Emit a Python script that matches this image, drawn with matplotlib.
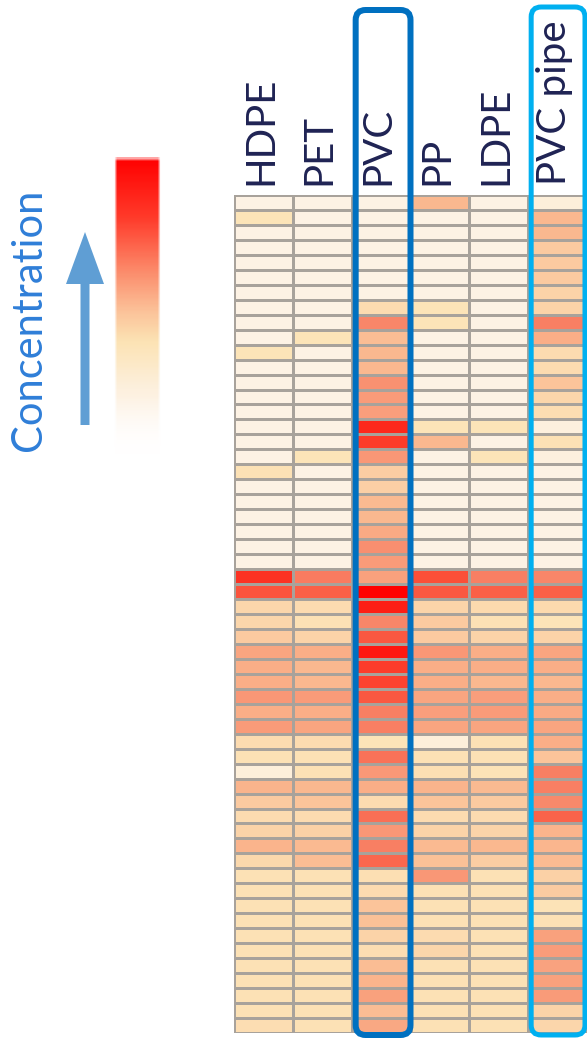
import numpy as np
import matplotlib
matplotlib.use("Agg")
import matplotlib.pyplot as plt
from matplotlib.colors import LinearSegmentedColormap
from matplotlib.patches import FancyBboxPatch
from matplotlib.transforms import IdentityTransform, blended_transform_factory

# relative concentration per compound (rows) for each polymer (columns), 0..1
materials = ["HDPE", "PET", "PVC", "PP", "LDPE", "PVC pipe"]

hdpe = [0, .2, 0, 0, 0, 0, 0, 0, 0, 0, .2, 0, 0, 0, 0, 0, 0, 0, .22, 0,
        0, 0, 0, 0, 0, .9, .83, .28, .28, .35, .55, .5, .5, .62, .5, .6, .25, .22, .05, .47,
        .35, .25, .3, .47, .27, .22, .22, .22, .22, .22, .22, .22, .22, .22, .22, .24]
pet = [0, 0, 0, 0, 0, 0, 0, 0, 0, .2, 0, 0, 0, 0, 0, 0, 0, .2, 0, 0,
       0, 0, 0, 0, 0, .73, .8, .25, .22, .3, .5, .45, .45, .6, .5, .55, .25, .22, .22, .45,
       .38, .25, .31, .44, .42, .22, .22, .22, .22, .22, .22, .22, .22, .22, .22, .22]
pvc = [0, 0, 0, 0, 0, 0, 0, .25, .7, .42, .45, .45, .65, .6, .58, .92, .88, .62, .33, .32,
       .44, .45, .52, .66, .6, .57, 1.0, .94, .7, .82, .95, .88, .87, .82, .72, .72, .2, .75, .61, .5,
       .25, .76, .62, .72, .78, .23, .25, .38, .4, .3, .24, .42, .47, .57, .42, .53]
pp = [.45, 0, 0, 0, 0, 0, 0, .2, .2, 0, 0, 0, 0, 0, 0, .2, .45, 0, 0, 0,
      0, 0, 0, 0, 0, .84, .82, .29, .35, .35, .62, .5, .5, .55, .58, .55, .05, .22, .23, .47,
      .38, .25, .3, .44, .4, .62, .22, .22, .22, .25, .28, .22, .22, .22, .22, .22]
ldpe = [0, 0, 0, 0, 0, 0, 0, 0, 0, 0, 0, 0, 0, 0, 0, .2, 0, .2, 0, 0,
        0, 0, 0, 0, 0, .72, .8, .26, .22, .3, .5, .5, .45, .58, .6, .55, .22, .22, .21, .44,
        .35, .25, .29, .45, .33, .22, .22, .22, .22, .22, .22, .22, .22, .22, .22, .22]
pvc_pipe = [.05, .45, .45, .35, .35, .35, .3, .3, .72, .5, .25, .25, .38, .28, .24, .03, .22, .03, 0, 0,
            0, 0, 0, 0, 0, .7, .8, .26, .2, .3, .55, .5, .45, .5, .52, .55, .5, .38, .72, .72,
            .69, .79, .47, .46, .43, .31, .34, .21, .22, .57, .59, .56, .57, .6, .3, .28]

data = np.array([hdpe, pet, pvc, pp, ldpe, pvc_pipe]).T
n_rows, n_cols = data.shape

heat = LinearSegmentedColormap.from_list("heat", [
    (0.0, "#FDF2E4"), (0.2, "#FCE4B8"), (0.45, "#FAB88F"),
    (0.7, "#F8876A"), (0.85, "#FB4C36"), (1.0, "#FF0000")])

W, H = 587, 1038
fig = plt.figure(figsize=(W / 100, H / 100), dpi=100, facecolor="white")

# heatmap
ax = fig.add_axes([234 / W, 5 / H, (W - 234) / W, 838 / H])
ax.pcolormesh(np.arange(n_cols + 1), np.arange(n_rows + 1), data, cmap=heat,
              vmin=0, vmax=1, edgecolors="#A8A29B", linewidth=0.8)
ax.set_xlim(0, n_cols)
ax.set_ylim(n_rows, 0)
ax.set_xticks([])
ax.set_yticks([])
for s in ax.spines.values():
    s.set_visible(False)

# column names above the grid
lbl_tr = blended_transform_factory(ax.transData, ax.transAxes)
for i, name in enumerate(materials):
    ax.text(i + 0.45, 1.012, name, transform=lbl_tr, rotation=90, ha="center", va="bottom",
            fontsize=29, color="#1F2354", family="Lato")

# highlight boxes around the PVC columns (pixel coordinates)
def column_box(col, color, lw, top_px, inset_l, inset_r):
    x0 = ax.transData.transform((col, 0))[0] + inset_l
    x1 = ax.transData.transform((col + 1, 0))[0] - inset_r
    y0 = 3
    y1 = H - top_px
    r = 10
    box = FancyBboxPatch((x0 + r, y0 + r), x1 - x0 - 2 * r, y1 - y0 - 2 * r,
                         boxstyle=f"round,pad={r}", transform=IdentityTransform(),
                         fill=False, edgecolor=color, linewidth=lw * 0.72, zorder=10)
    fig.patches.append(box)

column_box(2, "#0070C0", 6, 10, 4, 0)
column_box(5, "#00B0F0", 5, 7, 3, 2)

# concentration legend: gradient bar, arrow and caption
lg = fig.add_axes([0, 0, 234 / W, 1])
lg.set_xlim(0, 234)
lg.set_ylim(H, 0)
lg.axis("off")

bar_cmap = LinearSegmentedColormap.from_list("bar", [
    (0.0, "#FF0000"), (0.2, "#FF3A2A"), (0.38, "#FC8A6A"), (0.52, "#FBC39A"),
    (0.62, "#FCE3B4"), (0.78, "#FDF0DE"), (0.92, "#FFF9F2"), (1.0, "#FFFFFF")])
ny, nx = 300, 50
t = np.linspace(0, 1, ny)[:, None] * np.ones((1, nx))
rgba = bar_cmap(t)
xs = np.linspace(0, 1, nx)[None, :]
edge = np.clip(np.minimum(xs, 1 - xs) / 0.06, 0, 1)
fade = np.clip((1 - t) / 0.2, 0, 1) * np.clip(t / 0.012, 0.35, 1)
rgba[..., 3] = edge * fade
lg.imshow(rgba, extent=(114, 161, 455, 157), aspect="auto", interpolation="bilinear", zorder=2)

lg.arrow(85, 425, 0, -193, width=9, head_width=38, head_length=52,
         length_includes_head=True, color="#5F9ED4", linewidth=0, zorder=3)

lg.text(29, 320, "Concentration", rotation=90, ha="center", va="center",
        fontsize=30, color="#2F7ED8", family="Lato")

fig.savefig("out.png", dpi=100)
